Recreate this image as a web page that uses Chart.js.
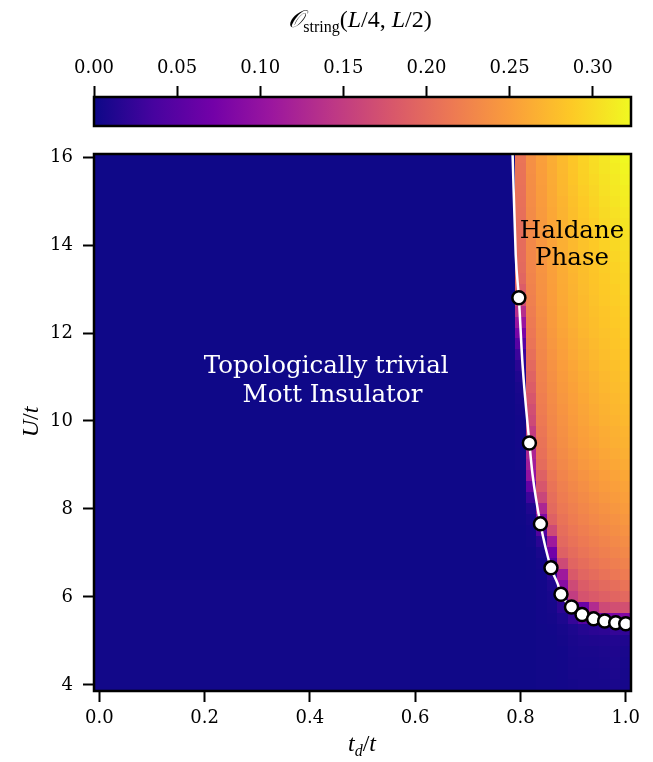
<!DOCTYPE html>
<html>
<head>
<meta charset="utf-8">
<script src="https://cdn.jsdelivr.net/npm/chart.js@4.4.1/dist/chart.umd.min.js"></script>
<style>
  html, body { margin: 0; padding: 0; background: #fff; }
  #quadro { position: relative; width: 653px; height: 762px; }
  #barra { position: absolute; left: 0; top: 0; }
  #mapa { position: absolute; left: 0; top: 140px; }
</style>
</head>
<body>
<div id="quadro">
  <canvas id="barra" width="653" height="140"></canvas>
  <canvas id="mapa" width="653" height="622"></canvas>
</div>
<script>
// 🔹 Eixos e ticks
const ticksTd = [0.0, 0.2, 0.4, 0.6, 0.8, 1.0];
const ticksU = [4, 6, 8, 10, 12, 14, 16];
const ticksBarra = [0.00, 0.05, 0.10, 0.15, 0.20, 0.25, 0.30];
const vMax = 0.323;

// grade do mapa: td de 0 a 1 (passo 0.02), U de 16 a 4 (passo 0.25)
const passoTd = 0.02;
const passoU = 0.25;
const uLinhas = [16, 15.75, 15.5, 15.25, 15, 14.75, 14.5, 14.25, 14, 13.75, 13.5, 13.25, 13,
  12.75, 12.5, 12.25, 12, 11.75, 11.5, 11.25, 11, 10.75, 10.5, 10.25, 10, 9.75, 9.5, 9.25, 9,
  8.75, 8.5, 8.25, 8, 7.75, 7.5, 7.25, 7, 6.75, 6.5, 6.25, 6, 5.75, 5.5, 5.25, 5,
  4.75, 4.5, 4.25, 4];

// fase de Mott: valor quase nulo (oeste: td < 0.6, leste: 0.6 <= td < 0.78)
const mottOeste = [.001, .001, .001, .001, .001, .001, .001, .001, .001, .001, .001, .001, .001,
  .001, .001, .001, .001, .001, .001, .001, .001, .001, .001, .001, .001, .001, .001, .001, .001,
  .001, .001, .001, .001, .001, .001, .001, .001, .001, .001, .003, .003, .003, .003, .003, .003,
  .003, .003, .003, .003];
const mottLeste = [.001, .001, .001, .001, .001, .001, .001, .001, .001, .001, .001, .001, .001,
  .001, .001, .001, .001, .001, .001, .001, .001, .001, .001, .001, .001, .001, .001, .001, .001,
  .001, .001, .001, .001, .001, .001, .001, .001, .001, .001, .002, .002, .002, .002, .002, .002,
  .002, .002, .002, .002];

// colunas perto da transição (td = 0.78 ... 1.00), uma linha por U
const tdColunas = [0.78, 0.80, 0.82, 0.84, 0.86, 0.88, 0.90, 0.92, 0.94, 0.96, 0.98, 1.00];
const ordemString = [
  [.001, .210, .238, .252, .264, .275, .285, .294, .302, .309, .316, .322],
  [.001, .209, .237, .251, .263, .274, .284, .293, .301, .308, .314, .320],
  [.001, .208, .236, .250, .262, .273, .283, .292, .299, .306, .312, .318],
  [.001, .207, .235, .249, .261, .272, .281, .290, .297, .304, .310, .315],
  [.001, .206, .234, .248, .260, .270, .280, .288, .295, .302, .308, .313],
  [.001, .205, .233, .247, .259, .269, .278, .286, .293, .300, .305, .310],
  [.001, .204, .232, .246, .258, .268, .277, .285, .291, .298, .303, .308],
  [.001, .203, .231, .245, .256, .266, .275, .283, .289, .295, .300, .305],
  [.001, .202, .230, .244, .255, .265, .274, .281, .287, .293, .298, .303],
  [.001, .201, .229, .243, .254, .264, .272, .279, .285, .291, .296, .301],
  [.001, .199, .228, .242, .253, .263, .271, .278, .284, .289, .294, .299],
  [.001, .195, .226, .241, .252, .262, .270, .277, .283, .288, .293, .297],
  [.001, .186, .224, .240, .251, .261, .269, .276, .282, .287, .291, .296],
  [.001, .168, .222, .239, .250, .260, .268, .275, .281, .286, .290, .294],
  [.001, .135, .219, .237, .249, .259, .267, .274, .280, .284, .288, .292],
  [.001, .105, .216, .235, .248, .258, .266, .273, .278, .283, .287, .290],
  [.001, .078, .213, .233, .246, .256, .264, .271, .277, .281, .285, .289],
  [.001, .050, .210, .231, .244, .254, .262, .269, .275, .280, .284, .287],
  [.001, .030, .205, .229, .242, .252, .260, .267, .273, .278, .282, .285],
  [.001, .018, .198, .227, .240, .250, .258, .265, .271, .276, .280, .283],
  [.001, .012, .192, .225, .238, .248, .256, .263, .269, .274, .278, .281],
  [.001, .008, .186, .223, .236, .246, .254, .261, .267, .272, .276, .279],
  [.001, .006, .178, .220, .234, .244, .252, .259, .265, .270, .274, .277],
  [.001, .005, .170, .218, .232, .242, .250, .257, .263, .268, .272, .275],
  [.001, .004, .165, .215, .230, .240, .248, .255, .261, .266, .270, .273],
  [.001, .004, .150, .212, .228, .238, .246, .253, .258, .263, .267, .270],
  [.001, .004, .130, .209, .226, .236, .244, .251, .256, .261, .265, .268],
  [.001, .003, .125, .206, .223, .233, .241, .248, .253, .258, .262, .265],
  [.001, .003, .115, .202, .220, .230, .238, .245, .250, .255, .259, .262],
  [.001, .002, .100, .190, .214, .226, .234, .241, .246, .251, .255, .259],
  [.001, .002, .060, .178, .209, .222, .230, .237, .243, .248, .252, .255],
  [.001, .002, .030, .160, .204, .218, .226, .233, .239, .244, .248, .252],
  [.001, .002, .012, .125, .199, .214, .222, .229, .235, .240, .244, .248],
  [.001, .002, .006, .085, .190, .209, .218, .225, .231, .236, .240, .244],
  [.001, .001, .004, .045, .165, .204, .213, .220, .226, .231, .236, .240],
  [.001, .001, .003, .018, .110, .198, .208, .215, .221, .226, .231, .235],
  [.001, .001, .002, .008, .070, .190, .202, .210, .216, .221, .226, .230],
  [.001, .001, .002, .005, .045, .165, .194, .203, .210, .215, .220, .224],
  [.001, .001, .002, .004, .020, .110, .182, .195, .202, .208, .213, .217],
  [.002, .002, .002, .004, .010, .090, .165, .185, .193, .199, .204, .209],
  [.002, .002, .002, .004, .007, .050, .150, .175, .183, .189, .194, .198],
  [.002, .002, .002, .004, .006, .020, .070, .065, .130, .165, .170, .172],
  [.002, .002, .002, .004, .005, .010, .025, .050, .055, .070, .080, .085],
  [.002, .002, .002, .003, .004, .006, .010, .015, .018, .020, .024, .022],
  [.002, .002, .002, .003, .003, .005, .008, .010, .011, .012, .013, .011],
  [.002, .002, .002, .003, .003, .004, .007, .008, .008, .009, .011, .008],
  [.002, .002, .002, .003, .003, .004, .006, .007, .007, .008, .010, .007],
  [.002, .002, .002, .003, .003, .004, .006, .006, .006, .007, .009, .006],
  [.002, .002, .002, .003, .003, .004, .005, .006, .006, .006, .008, .006]
];

// 🔹 Pontos críticos e curva da transição
const criticoTd = [0.797, 0.817, 0.838, 0.858, 0.877, 0.897, 0.917, 0.939, 0.960, 0.981, 1.000];
const criticoU = [12.80, 9.50, 7.66, 6.66, 6.06, 5.77, 5.60, 5.50, 5.45, 5.41, 5.39];
const curvaTd = [0.785, 0.791, 0.797, 0.804, 0.817, 0.823, 0.838, 0.858, 0.871, 0.877, 0.897, 0.917, 0.939, 0.960, 0.981, 1.000];
const curvaU = [16.1, 13.78, 12.80, 11.28, 9.50, 8.78, 7.66, 6.66, 6.29, 6.06, 5.77, 5.60, 5.50, 5.45, 5.41, 5.39];

// 🔹 Textos das fases
const textosFase = [
  { texto: 'Topologically trivial', td: 0.431, u: 11.1, cor: '#fff' },
  { texto: 'Mott Insulator', td: 0.443, u: 10.44, cor: '#fff' },
  { texto: 'Haldane', td: 0.898, u: 14.17, cor: '#000' },
  { texto: 'Phase', td: 0.898, u: 13.55, cor: '#000' }
];

// 🔹 Mapa de cores plasma
const plasmaCores = ['#0d0887', '#47039f', '#7301a8', '#9c179e', '#bd3786',
  '#d8576b', '#ed7953', '#fa9e3b', '#fdc926', '#f0f921'];
const plasmaRgb = plasmaCores.map(h => [1, 3, 5].map(i => parseInt(h.substr(i, 2), 16)));

function plasma(v) {
  let t = Math.min(Math.max(v / vMax, 0), 1) * (plasmaRgb.length - 1);
  const i = Math.min(Math.floor(t), plasmaRgb.length - 2);
  const f = t - i;
  const a = plasmaRgb[i], b = plasmaRgb[i + 1];
  const c = a.map((x, k) => Math.round(x + (b[k] - x) * f));
  return `rgb(${c[0]},${c[1]},${c[2]})`;
}

Chart.defaults.font.family = "'DejaVu Serif', serif";
Chart.defaults.color = '#000';

// escreve um texto com partes de fontes diferentes (subscritos, itálico)
function escreveMath(ctx, partes, cx, base) {
  let largura = 0;
  partes.forEach(p => { ctx.font = p.fonte; p.w = ctx.measureText(p.t).width; largura += p.w; });
  let x = cx - largura / 2;
  ctx.textAlign = 'left';
  ctx.textBaseline = 'alphabetic';
  partes.forEach(p => {
    ctx.font = p.fonte;
    ctx.fillText(p.t, x, base + (p.dy || 0));
    x += p.w;
  });
}

const serifIt = "italic 24px 'Liberation Serif'";
const serifRm = "24px 'Liberation Serif'";
const serifSub = "16px 'Liberation Serif'";

// sem folga extra para os rótulos nas pontas dos eixos
function semFolga(s) {
  s.paddingTop = 0; s.paddingBottom = 0; s.paddingLeft = 0; s.paddingRight = 0;
}

// 🔹 Moldura preta em volta da área
const moldura = {
  id: 'moldura',
  afterDraw(chart) {
    const { ctx, chartArea: a } = chart;
    ctx.save();
    ctx.strokeStyle = '#000';
    ctx.lineWidth = 2.5;
    ctx.strokeRect(a.left, a.top, a.right - a.left, a.bottom - a.top);
    ctx.restore();
  }
};

// 🔹 Barra de cores
const gradiente = {
  id: 'gradiente',
  beforeDatasetsDraw(chart) {
    const { ctx, chartArea: a, scales: { x } } = chart;
    const x0 = x.getPixelForValue(0), x1 = x.getPixelForValue(vMax);
    const g = ctx.createLinearGradient(x0, 0, x1, 0);
    plasmaCores.forEach((c, i) => g.addColorStop(i / (plasmaCores.length - 1), c));
    ctx.save();
    ctx.fillStyle = g;
    ctx.fillRect(x0, a.top, x1 - x0, a.bottom - a.top);
    ctx.fillStyle = '#000';
    escreveMath(ctx, [
      { t: '𝒪', fonte: serifIt },
      { t: 'string', fonte: serifSub, dy: 5 },
      { t: '(', fonte: serifRm },
      { t: 'L', fonte: serifIt },
      { t: '/4, ', fonte: serifRm },
      { t: 'L', fonte: serifIt },
      { t: '/2)', fonte: serifRm }
    ], 360, 27);
    ctx.restore();
  }
};

new Chart(document.getElementById('barra'), {
  type: 'scatter',
  data: { datasets: [] },
  options: {
    responsive: false,
    animation: false,
    events: [],
    layout: { padding: { left: 94, right: 22, top: 0, bottom: 14 } },
    plugins: { legend: { display: false }, tooltip: { enabled: false } },
    scales: {
      x: {
        type: 'linear', position: 'top', min: 0, max: vMax,
        afterBuildTicks: s => { s.ticks = ticksBarra.map(v => ({ value: v })); },
        afterFit: s => { s.height = 97; semFolga(s); },
        border: { display: false },
        grid: { drawOnChartArea: false, drawTicks: true, tickLength: 11, tickWidth: 2, tickColor: '#000' },
        ticks: { callback: v => v.toFixed(2), font: { size: 18 }, padding: 7, maxRotation: 0 }
      },
      y: { display: false, min: 0, max: 1 }
    }
  },
  plugins: [gradiente, moldura]
});

// 🔹 Células do mapa
const celulas = {
  id: 'celulas',
  beforeDatasetsDraw(chart) {
    const { ctx, chartArea: a, scales: { x, y } } = chart;
    ctx.save();
    ctx.beginPath();
    ctx.rect(a.left, a.top, a.right - a.left, a.bottom - a.top);
    ctx.clip();

    function pinta(td, u, v) {
      const xa = Math.round(x.getPixelForValue(td - passoTd / 2));
      const xb = Math.round(x.getPixelForValue(td + passoTd / 2));
      const ya = Math.round(y.getPixelForValue(u + passoU / 2));
      const yb = Math.round(y.getPixelForValue(u - passoU / 2));
      ctx.fillStyle = plasma(v);
      ctx.fillRect(xa, ya, xb - xa, yb - ya);
    }

    uLinhas.forEach((u, r) => {
      for (let i = 0; i < 39; i++) {
        const td = i * passoTd;
        pinta(td, u, td < 0.59 ? mottOeste[r] : mottLeste[r]);
      }
      tdColunas.forEach((td, c) => pinta(td, u, ordemString[r][c]));
    });
    ctx.restore();
  },
  afterDatasetsDraw(chart) {
    const { ctx, scales: { x, y } } = chart;
    ctx.save();
    ctx.font = "24.5px 'DejaVu Serif'";
    ctx.textAlign = 'center';
    ctx.textBaseline = 'alphabetic';
    textosFase.forEach(t => {
      ctx.fillStyle = t.cor;
      ctx.fillText(t.texto, x.getPixelForValue(t.td), y.getPixelForValue(t.u));
    });
    ctx.restore();
  },
  afterDraw(chart) {
    const { ctx } = chart;
    ctx.save();
    ctx.fillStyle = '#000';
    escreveMath(ctx, [
      { t: 't', fonte: serifIt },
      { t: 'd', fonte: "italic 16px 'Liberation Serif'", dy: 5 },
      { t: '/', fonte: serifRm },
      { t: 't', fonte: serifIt }
    ], 362, 611);
    ctx.translate(30, 282);
    ctx.rotate(-Math.PI / 2);
    escreveMath(ctx, [
      { t: 'U', fonte: serifIt },
      { t: '/', fonte: serifRm },
      { t: 't', fonte: serifIt }
    ], 0, 8);
    ctx.restore();
  }
};

new Chart(document.getElementById('mapa'), {
  type: 'scatter',
  data: {
    datasets: [
      {
        data: criticoTd.map((td, i) => ({ x: td, y: criticoU[i] })),
        pointRadius: 6.5, pointBorderWidth: 2.5,
        pointBackgroundColor: '#fff', pointBorderColor: '#000',
        clip: 0, order: 0
      },
      {
        data: curvaTd.map((td, i) => ({ x: td, y: curvaU[i] })),
        showLine: true, borderColor: '#fff', borderWidth: 2.5,
        pointRadius: 0, cubicInterpolationMode: 'monotone',
        clip: 0, order: 1
      }
    ]
  },
  options: {
    responsive: false,
    animation: false,
    events: [],
    layout: { padding: { left: 0, right: 22, top: 14, bottom: 0 } },
    plugins: { legend: { display: false }, tooltip: { enabled: false } },
    scales: {
      x: {
        type: 'linear', min: -0.01, max: 1.01,
        afterBuildTicks: s => { s.ticks = ticksTd.map(v => ({ value: v })); },
        afterFit: s => { s.height = 71; semFolga(s); },
        border: { display: false },
        grid: { drawOnChartArea: false, drawTicks: true, tickLength: 11, tickWidth: 2, tickColor: '#000' },
        ticks: { callback: v => v.toFixed(1), font: { size: 18 }, padding: 6, maxRotation: 0 }
      },
      y: {
        type: 'linear', min: 3.86, max: 16.07,
        afterBuildTicks: s => { s.ticks = ticksU.map(v => ({ value: v })); },
        afterFit: s => { s.width = 94; semFolga(s); },
        border: { display: false },
        grid: { drawOnChartArea: false, drawTicks: true, tickLength: 11, tickWidth: 2, tickColor: '#000' },
        ticks: { callback: v => String(v), font: { size: 18 }, padding: 10 }
      }
    }
  },
  plugins: [celulas, moldura]
});
</script>
</body>
</html>
